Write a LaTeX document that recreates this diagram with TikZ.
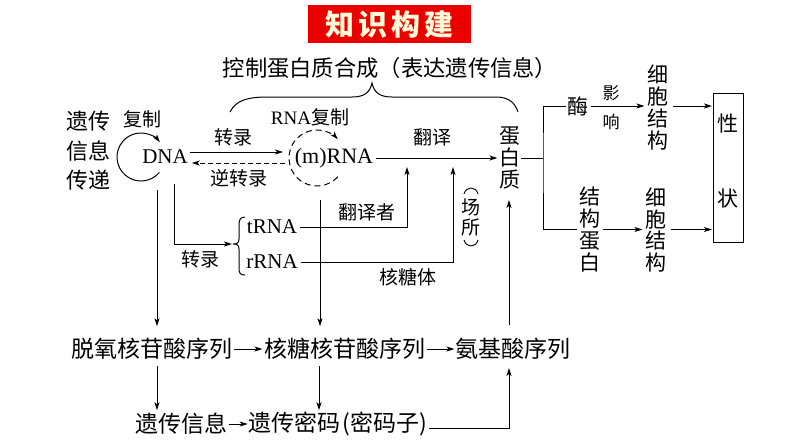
\documentclass[tikz,border=0pt]{standalone}
\usepackage{fontspec}
\setmainfont{Liberation Serif}
\newfontfamily\cjk{Noto Sans CJK SC}
\usetikzlibrary{arrows.meta,calc}
\definecolor{titlered}{RGB}{235,0,0}
\definecolor{cream}{RGB}{255,250,215}
\begin{document}
\begin{tikzpicture}[x=1pt,y=-1pt,
  every node/.style={inner sep=0pt,outer sep=0pt},
  lat/.style={font=\fontsize{21}{21}\selectfont},
  big/.style={font=\cjk\fontsize{23}{23}\selectfont},
  mid/.style={font=\cjk\fontsize{19}{19}\selectfont},
  sml/.style={font=\cjk\fontsize{17}{17}\selectfont},
  vt/.style={align=center,font=\cjk\fontsize{21}{21.8}\selectfont},
  ln/.style={line width=1pt},
  arr/.style={ln,-{Stealth[length=8pt,width=5pt,inset=2pt]}},
]
\useasboundingbox (0,0) rectangle (794,447);

% title banner
\node[fill=titlered,minimum width=163pt,minimum height=38pt] (title) at (389.5,24) {};
\node[font=\cjk\bfseries\fontsize{29}{29}\selectfont,text=cream] (titletext) at (title.center) {知\hspace{4pt}识\hspace{4pt}构\hspace{4pt}建};

% top label and brace
\node[font=\cjk\fontsize{22.3}{22.3}\selectfont] (ctrl) at (390,68) {控制蛋白质合成（表达遗传信息）};
\draw[ln] (230,112) .. controls (236,100) and (248,97) .. (268,97) -- (352,97)
  .. controls (365,97) and (370,92) .. (372,83)
  .. controls (374,92) and (379,97) .. (392,97) -- (496,97)
  .. controls (509,97) and (515,103) .. (518,112);

% left side
\node[align=center,font=\cjk\fontsize{22}{29.5}\selectfont] (yc) at (88,151) {遗传\\信息\\传递};
\node[mid] (fz) at (142,119) {复制};
\node[lat] (dna) at (165,157) {DNA};
\draw[arr] (141,157) ++(40:24) arc[start angle=40,end angle=322,radius=24];

% (m)RNA
\node[circle,minimum size=56pt] (mc) at (317,158) {};
\node[lat,font=\fontsize{22}{22}\selectfont] (mrna) at (334,158) {(m)RNA};
\draw[arr,dash pattern=on 6pt off 4pt] (mc.center) ++(42:28) arc[start angle=42,end angle=318,radius=28];
\node[font=\fontsize{19}{19}\selectfont] (rf) at (310,117) {RNA{\cjk 复制}};

% DNA <-> RNA
\draw[arr] ([xshift=2pt,yshift=5pt]dna.east) -- ([xshift=-6pt,yshift=6pt]mc.west);
\draw[arr,dash pattern=on 5pt off 3pt] ([xshift=-4pt,yshift=-5pt]mc.west) -- ([xshift=4pt,yshift=-6pt]dna.east);
\node[mid] (zl) at (233,137) {转录};
\node[mid] (nzl) at (239,178) {逆转录};

% protein
\node[vt,font=\cjk\fontsize{21}{22.3}\selectfont] (prot) at (510,158) {蛋\\白\\质};
\draw[arr] ([xshift=3pt]mrna.east) -- ([xshift=-2pt]prot.west);
\node[mid] (fy) at (432,137) {翻译};

% tRNA / rRNA
\node[lat] (trna) at (272,227) {tRNA};
\node[lat] (rrna) at (272,262) {rRNA};
\draw[ln] (245,217) .. controls (240,217) and (239,220) .. (239,226) -- (239,239)
  .. controls (239,243) and (237,244) .. (233,244)
  .. controls (237,244) and (239,245) .. (239,249) -- (239,268)
  .. controls (239,273) and (240,275) .. (245,275);
\coordinate (brtip) at (232,244);
\coordinate (d1) at (157,190);
\coordinate (d2) at (174,184);
\draw[arr] (d2) |- (brtip);
\node[mid] (zl2) at (200,259) {转录};
\coordinate (t1) at (407,167);
\coordinate (r1) at (453,167);
\draw[arr] ($(trna.east)+(3,0)$) -| (t1);
\draw[arr] ($(rrna.east)+(3,0)$) -| (r1);
\node[mid] (fyz) at (367,212) {翻译者};
\node[mid] (htt) at (408,277) {核糖体};
\node[align=center,font=\cjk\fontsize{19}{20}\selectfont] (place) at (471,217) {场\\所};
\draw[line width=0.9pt] (464,194) .. controls (466,186) and (476,186) .. (478,194);
\draw[line width=0.9pt] (464,240) .. controls (466,248) and (476,248) .. (478,240);

% bottom rows
\node[big] (dox) at (152,349) {脱氧核苷酸序列};
\node[big] (rib) at (345,349) {核糖核苷酸序列};
\node[big] (aa) at (513,349) {氨基酸序列};
\node[big] (info) at (181.5,424) {遗传信息};
\node[big] (code) at (338,424) {遗传密码\kern2pt(密码子)};

\draw[arr] ($(dox.east)+(1,0)$) -- ($(rib.west)+(-2,0)$);
\draw[arr] ($(rib.east)+(1,0)$) -- ($(aa.west)+(-1,0)$);
\draw[arr] ($(info.east)+(1,0)$) -- ($(code.west)+(-1,0)$);

\draw[arr] (d1) -- ($(d1 |- dox.north)+(0,-12)$);
\coordinate (m1) at (320,200);
\draw[arr] (m1) -- ($(m1 |- rib.north)+(0,-12)$);
\draw[arr] ($(dox.south -| d1)+(0,6)$) -- ($(info.north -| d1)+(0,-3)$);
\coordinate (m2) at (319,366);
\draw[arr] (m2) -- ($(info.north -| m2)+(0,-3)$);
\coordinate (a1) at (509,368);
\draw[arr] ($(code.east)+(2,4)$) -| (a1);
\coordinate (p1) at (509,200);
\draw[arr] ($(aa.north -| p1)+(0,-13)$) -- (p1);

% right part
\coordinate (jn) at (543,158);
\node[font=\cjk\fontsize{21}{21}\selectfont] (enz) at (578,106) {酶};
\node[vt] (sp) at (590,229.5) {结\\构\\蛋\\白};
\node[vt] (cell1) at (658,107.5) {细\\胞\\结\\构};
\node[vt] (cell2) at (656,230) {细\\胞\\结\\构};
\node[sml] (ying) at (611,93) {影};
\node[sml] (xiang) at (611,122) {响};
\node[draw,ln,minimum width=30pt,minimum height=149pt] (box) at (728,167.5) {};
\node[font=\cjk\fontsize{21}{21}\selectfont] (xing) at (728,124) {性};
\node[font=\cjk\fontsize{21}{21}\selectfont] (zhuang) at (728,198) {状};

\draw[ln] (prot.east) -- (jn);
\draw[ln] ($(enz.west)+(-2,0)$) -| (jn) |- ($(sp.west)+(-3,0)$);
\draw[arr] ($(enz.east)+(2,0)$) -- ($(cell1.west |- enz.east)+(-3,0)$);
\draw[arr] ($(cell1.east |- enz.east)+(4,0)$) -- ($(box.west |- enz.east)+(-1,0)$);
\draw[arr] ($(sp.east)+(2,0)$) -- ($(cell2.west |- sp.east)+(-3,0)$);
\draw[arr] ($(cell2.east |- sp.east)+(4,0)$) -- ($(box.west |- sp.east)+(-1,0)$);
\end{tikzpicture}
\end{document}
